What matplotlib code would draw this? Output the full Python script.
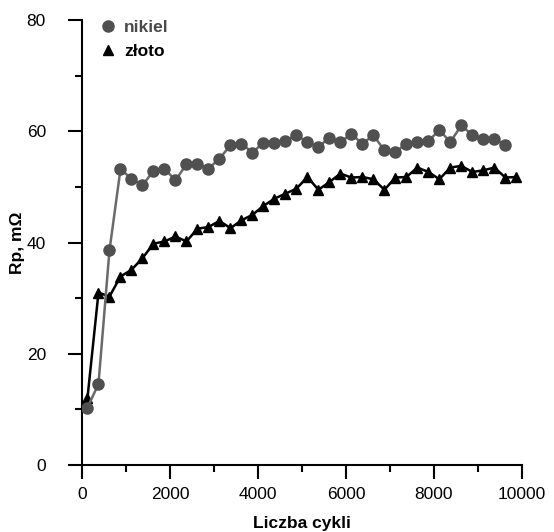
import numpy as np
import matplotlib as mpl
mpl.use('Agg')
import matplotlib.pyplot as plt
from matplotlib.lines import Line2D
from matplotlib.ticker import MultipleLocator

plt.rcParams['font.family'] = ['Liberation Sans', 'DejaVu Sans']

# cycles (every 250 cycles starting at 125)
cycles_ni = [125 + 250*k for k in range(39)]
cycles_au = [125 + 250*k for k in range(40)]

# Rp values, mOhm
nikiel = [10.3, 14.6, 38.6, 53.2, 51.5, 50.3, 52.9, 53.3, 51.2, 54.1,
          54.2, 53.3, 55.1, 57.5, 57.8, 56.2, 58.0, 58.0, 58.3, 59.3,
          58.1, 57.2, 58.9, 58.1, 59.5, 57.8, 59.3, 56.6, 56.3, 57.8,
          58.1, 58.3, 60.2, 58.1, 61.1, 59.3, 58.7, 58.7, 57.5]
zloto = [12.1, 31.0, 30.3, 33.9, 35.1, 37.2, 39.8, 40.2, 41.1, 40.2,
         42.5, 42.8, 43.9, 42.6, 44.0, 45.0, 46.6, 47.9, 48.8, 49.7,
         51.8, 49.5, 50.9, 52.4, 51.7, 51.8, 51.4, 49.5, 51.7, 51.8,
         53.5, 52.7, 51.4, 53.5, 53.8, 52.7, 53.0, 53.5, 51.7, 51.8]

ni_line = '#6a6a6a'
ni_mark = '#505050'

fig = plt.figure(figsize=(5.54, 5.32), dpi=100)
ax = fig.add_axes([0.148, 0.126, 0.794, 0.836])

ax.plot(cycles_au, zloto, '-', color='black', lw=1.8, zorder=2)
ax.plot(cycles_au, zloto, '^', color='black', ms=7.5, mec='black', zorder=3)
ax.plot(cycles_ni, nikiel, '-', color=ni_line, lw=1.8, zorder=4)
ax.plot(cycles_ni, nikiel, 'o', color=ni_mark, ms=8, mec=ni_mark, zorder=5)

ax.set_xlim(0, 10000)
ax.set_ylim(0, 80)
ax.xaxis.set_major_locator(MultipleLocator(2000))
ax.xaxis.set_minor_locator(MultipleLocator(1000))
ax.yaxis.set_major_locator(MultipleLocator(20))
ax.yaxis.set_minor_locator(MultipleLocator(10))

for s in ['top', 'right']:
    ax.spines[s].set_visible(False)
for s in ['left', 'bottom']:
    ax.spines[s].set_linewidth(1.5)

ax.tick_params(which='major', length=10, width=1.5, labelsize=12.5)
ax.tick_params(which='minor', length=5, width=1.5)
ax.tick_params(axis='x', which='major', pad=6)
ax.tick_params(axis='y', which='major', pad=16)

ax.set_xlabel('Liczba cykli', fontsize=12.5, fontweight='bold', labelpad=10)
ax.set_ylabel('Rp, m\u03a9', fontsize=12.5, fontweight='bold', labelpad=1)

handles = [Line2D([], [], ls='none', marker='o', color=ni_mark, ms=8),
           Line2D([], [], ls='none', marker='^', color='black', ms=7.5)]
leg = ax.legend(handles, ['nikiel', 'z\u0142oto'], loc='upper left',
                bbox_to_anchor=(0.005, 1.035), frameon=False,
                handlelength=1.0, handletextpad=0.4, labelspacing=0.5,
                prop={'size': 12.5, 'weight': 'bold'})
leg.get_texts()[0].set_color('#4a4a4a')

fig.savefig('out.png', dpi=100)
